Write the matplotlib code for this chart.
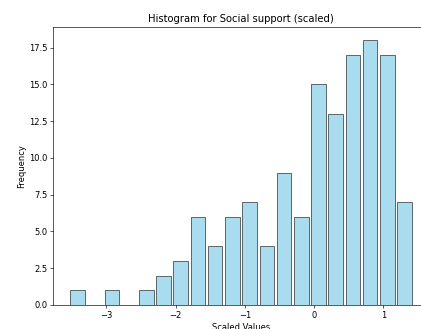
import numpy as np
import matplotlib
matplotlib.use("Agg")
import matplotlib.pyplot as plt

# histogram counts (20 bins)
counts = [1, 0, 1, 0, 1, 2, 3, 6, 4, 6, 7, 4, 9, 6, 15, 13, 17, 18, 17, 7]
bin_start = -3.54
bin_end = 1.43

edges = np.linspace(bin_start, bin_end, len(counts) + 1)
centers = (edges[:-1] + edges[1:]) / 2

plt.rcParams['font.size'] = 10.5

DPI = 57
fig = plt.figure(figsize=(421 / DPI, 329 / DPI), dpi=DPI)
# the reference is cropped on the right, so the axes run past the edge
ax = fig.add_axes([53 / 421, 24 / 329, 376 / 421, 278 / 329])

ax.hist(centers, bins=edges, weights=counts, rwidth=0.85,
        color='skyblue', edgecolor='black', alpha=0.7)

ax.set_title('Histogram for Social support (scaled)')
ax.set_xlabel('Scaled Values')
ax.set_ylabel('Frequency')

fig.savefig('out.png', dpi=DPI)
